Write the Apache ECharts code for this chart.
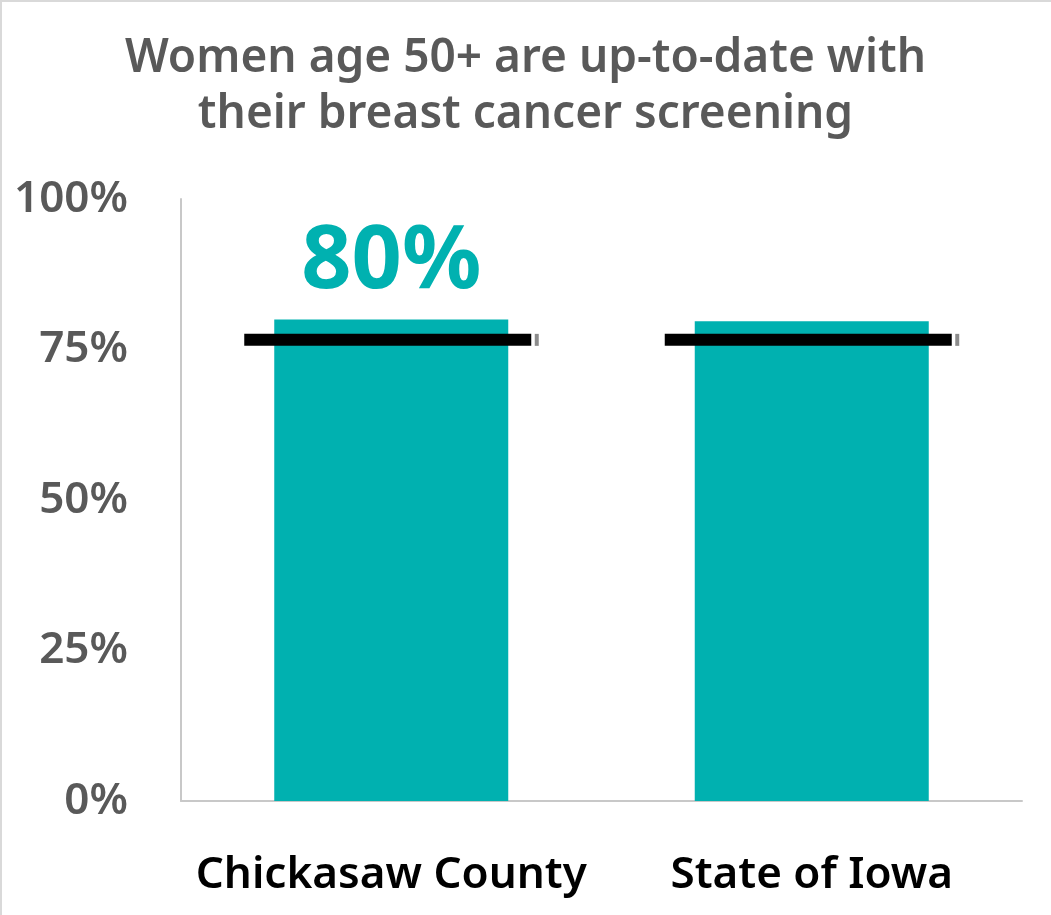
<!DOCTYPE html>
<html>
<head>
<meta charset="utf-8">
<style>
    html, body { margin: 0; padding: 0; background: #fff; }
    #frame { width: 1051px; height: 915px; position: relative; box-sizing: border-box;
             border-left: 2px solid #d9d9d9; border-top: 2px solid #d9d9d9; }
    #main { position: absolute; left: -2px; top: -2px; width: 1051px; height: 915px; }
</style>
</head>
<body>
<div id="frame"><div id="main"></div></div>

<script src="https://cdn.jsdelivr.net/npm/echarts@6/dist/echarts.min.js"></script>
<script type="text/javascript">
    // data
    var categories = ['Chickasaw County', 'State of Iowa'];
    var rates = [80, 79.7];          // % up-to-date
    var targets = [76.6, 76.6];      // black benchmark line
    var showLabel = [true, false];   // only the county gets its value printed
    var yTicks = [0, 25, 50, 75, 100];

    var teal = '#00B1B0';
    var grey = '#595959';
    var font = '"Noto Sans", "Open Sans", sans-serif';

    var barData = rates.map(function (v, i) {
        return {
            value: v,
            label: {show: showLabel[i]}
        };
    });

    var myChart = echarts.init(document.getElementById('main'));
    myChart.setOption({
        animation: false,
        textStyle: {fontFamily: font},
        title: {
            text: 'Women age 50+ are up-to-date with\ntheir breast cancer screening',
            left: 'center',
            top: 26,
            textStyle: {
                fontFamily: font,
                fontSize: 46,
                fontWeight: 600,
                color: grey,
                lineHeight: 56
            }
        },
        grid: {left: 181, right: 29, top: 199, bottom: 114},
        xAxis: {
            type: 'category',
            data: categories,
            axisLine: {lineStyle: {color: '#c8c8c8', width: 2}},
            axisTick: {show: false},
            axisLabel: {
                interval: 0,
                fontFamily: font,
                fontSize: 44,
                fontWeight: 600,
                color: '#000',
                margin: 52
            }
        },
        yAxis: {
            type: 'value',
            min: yTicks[0],
            max: yTicks[yTicks.length - 1],
            interval: 25,
            axisLine: {show: true, lineStyle: {color: '#c8c8c8', width: 2}},
            axisTick: {show: false},
            splitLine: {show: false},
            axisLabel: {
                fontFamily: font,
                fontSize: 44,
                fontWeight: 600,
                color: grey,
                margin: 53,
                formatter: '{value}%'
            }
        },
        series: [
            {
                type: 'bar',
                data: barData,
                barWidth: 234,
                itemStyle: {color: teal},
                label: {
                    position: 'top',
                    distance: 12,
                    formatter: '{c}%',
                    fontFamily: font,
                    fontSize: 88,
                    fontWeight: 'bold',
                    color: teal
                },
                z: 2
            },
            {
                type: 'scatter',
                data: targets,
                symbol: 'rect',
                symbolSize: [287, 12],
                symbolOffset: [-3.5, 0],
                itemStyle: {color: '#000', opacity: 1},
                z: 5
            },
            {
                type: 'scatter',
                data: targets,
                symbol: 'rect',
                symbolSize: [4, 12],
                symbolOffset: [145.5, 0],
                itemStyle: {color: '#8c8c8c', opacity: 1},
                z: 5
            }
        ]
    });
</script>
</body>
</html>
